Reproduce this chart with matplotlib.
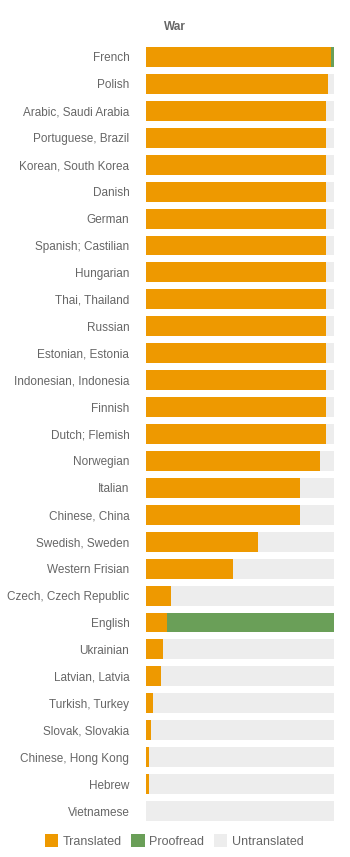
import numpy as np
import matplotlib.pyplot as plt
from matplotlib.patches import Patch

plt.rcParams['font.family'] = ['Liberation Sans', 'DejaVu Sans']

languages = ["French", "Polish", "Arabic, Saudi Arabia", "Portuguese, Brazil",
             "Korean, South Korea", "Danish", "German", "Spanish; Castilian",
             "Hungarian", "Thai, Thailand", "Russian", "Estonian, Estonia",
             "Indonesian, Indonesia", "Finnish", "Dutch; Flemish", "Norwegian",
             "Italian", "Chinese, China", "Swedish, Sweden", "Western Frisian",
             "Czech, Czech Republic", "English", "Ukrainian", "Latvian, Latvia",
             "Turkish, Turkey", "Slovak, Slovakia", "Chinese, Hong Kong",
             "Hebrew", "Vietnamese"]
translated = [98.6, 97.0, 95.6, 95.6, 95.6, 95.6, 95.6, 95.6, 95.6, 95.6,
              95.6, 95.6, 95.6, 95.6, 95.6, 92.6, 82.0, 82.0, 59.5, 46.4,
              13.2, 11.0, 8.8, 8.2, 3.8, 2.4, 1.7, 1.7, 0.0]
proofread = [1.4, 0, 0, 0, 0, 0, 0, 0, 0, 0,
             0, 0, 0, 0, 0, 0, 0, 0, 0, 0,
             0, 89.0, 0, 0, 0, 0, 0, 0, 0]

translated = np.array(translated)
proofread = np.array(proofread)
untranslated = 100 - translated - proofread

c_tr = "#EE9900"
c_pr = "#6A9F58"
c_un = "#EDEDED"
grey = "#666666"

fig = plt.figure(figsize=(3.5, 8.57), dpi=100)
ax = fig.add_axes([146/350, 1 - 824.5/857, 188/350, (824.5 - 43.5)/857])

y = np.arange(len(languages))
h = 0.74
ax.barh(y, translated, height=h, color=c_tr, linewidth=0)
ax.barh(y, proofread, left=translated, height=h, color=c_pr, linewidth=0)
ax.barh(y, untranslated, left=translated + proofread, height=h, color=c_un, linewidth=0)

ax.set_xlim(0, 100)
ax.set_ylim(len(languages) - 0.5, -0.5)
ax.set_yticks(y)
ax.set_yticklabels(languages, fontsize=8.5, color=grey)
ax.tick_params(axis='y', length=0, pad=12)
ax.set_xticks([])
for s in ax.spines.values():
    s.set_visible(False)

fig.text(0.5, 1 - 27/857, "War", ha='center', va='center',
         fontsize=8.5, fontweight='bold', color=grey)

handles = [Patch(facecolor=c_tr, linewidth=0, label="Translated"),
           Patch(facecolor=c_pr, linewidth=0, label="Proofread"),
           Patch(facecolor=c_un, linewidth=0, label="Untranslated")]
fig.legend(handles=handles, loc='center', bbox_to_anchor=(174/350, 1 - 841/857),
           ncol=3, frameon=False, fontsize=9, labelcolor=grey,
           handlelength=1.1, handleheight=1.2, handletextpad=0.35,
           columnspacing=0.75, borderpad=0)

fig.savefig("out.png", dpi=100)
